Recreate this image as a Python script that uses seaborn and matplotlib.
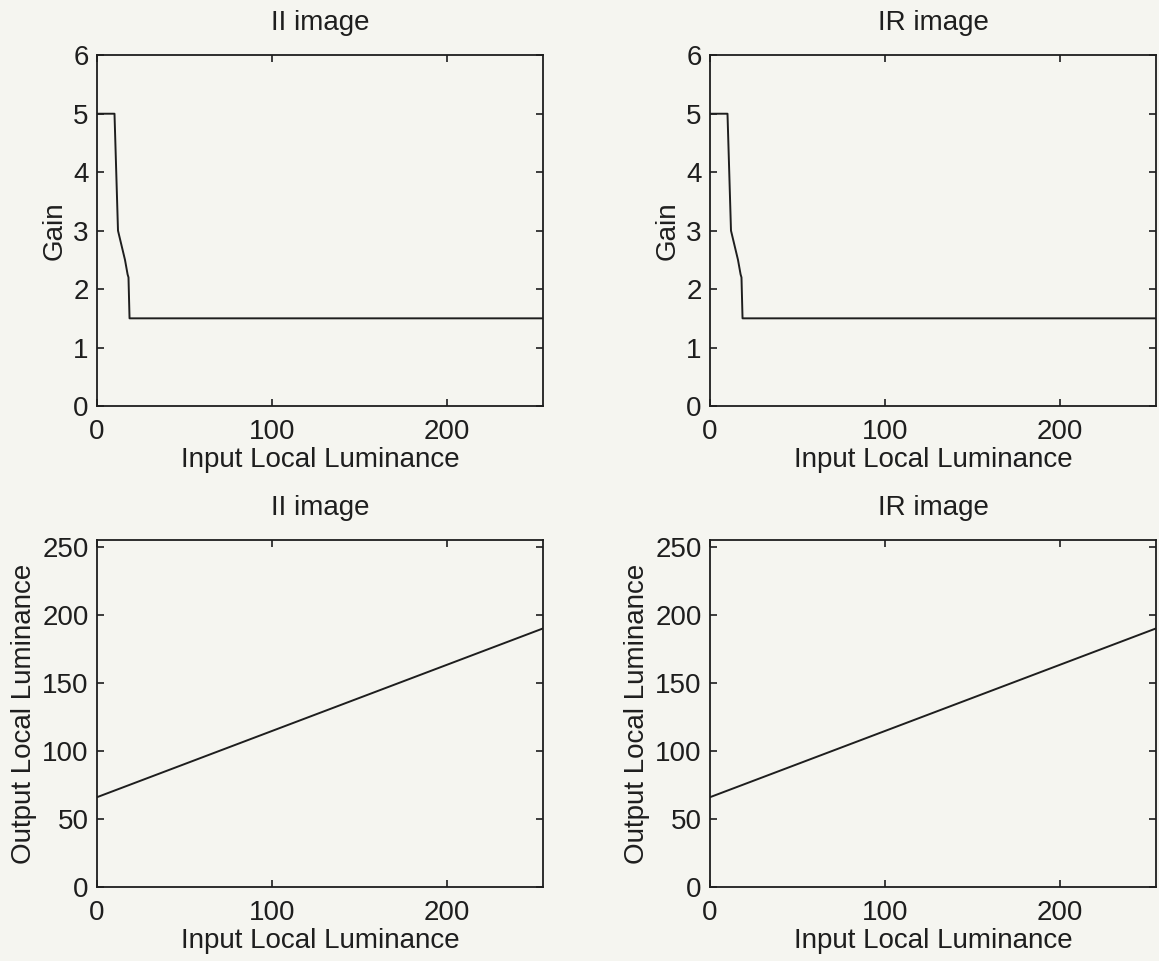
import matplotlib
matplotlib.use("Agg")
import matplotlib.pyplot as plt
import seaborn as sns
import pandas as pd

# Gain curve: piecewise values over input local luminance
gain_x = [0, 10, 11, 12, 14, 16, 17.5, 18, 18.6, 255]
gain_y = [5.0, 5.0, 4.0, 3.0, 2.75, 2.5, 2.25, 2.2, 1.5, 1.5]

# Output mapping: straight line from input 0 to 255
out_x = [0, 255]
out_y = [66, 190]

titles = ["II image", "IR image"]
xticks = [0, 100, 200]
gain_ticks = [0, 1, 2, 3, 4, 5, 6]
out_ticks = [0, 50, 100, 150, 200, 250]

bg = "#f5f5f0"
ink = "#1e1e1e"
fs = 20

sns.set_theme(style="ticks")
plt.rcParams["font.family"] = ["Liberation Sans", "DejaVu Sans"]
plt.rcParams.update({
    "font.size": fs,
    "axes.edgecolor": ink,
    "axes.linewidth": 1.3,
    "xtick.color": ink,
    "ytick.color": ink,
    "text.color": ink,
    "axes.labelcolor": ink,
})

fig = plt.figure(figsize=(11.59, 9.61), dpi=100, facecolor=bg)

lefts = [0.0837, 0.6126]
width = 0.3848
top_row = (0.5775, 0.365)
bot_row = (0.077, 0.3611)

gain_df = pd.DataFrame({"x": gain_x, "y": gain_y})
out_df = pd.DataFrame({"x": out_x, "y": out_y})

def style(ax, yticks, ylim, ylabel, title):
    ax.set_facecolor(bg)
    ax.set_xlim(0, 255)
    ax.set_ylim(*ylim)
    ax.set_xticks(xticks)
    ax.set_yticks(yticks)
    ax.tick_params(direction="in", length=5, width=1.2, top=True, right=True,
                   labelsize=fs)
    ax.tick_params(axis="x", pad=9)
    ax.tick_params(axis="y", pad=6)
    for s in ax.spines.values():
        s.set_visible(True)
        s.set_color(ink)
    ax.set_xlabel("Input Local Luminance", fontsize=fs, labelpad=2)
    ax.set_ylabel(ylabel, fontsize=fs, labelpad=4)
    ax.set_title(title, fontsize=fs, pad=18)

for i, left in enumerate(lefts):
    ax = fig.add_axes([left, top_row[0], width, top_row[1]])
    sns.lineplot(data=gain_df, x="x", y="y", ax=ax, color=ink, linewidth=1.4,
                 sort=False, estimator=None)
    style(ax, gain_ticks, (0, 6), "Gain", titles[i])

    ax2 = fig.add_axes([left, bot_row[0], width, bot_row[1]])
    sns.lineplot(data=out_df, x="x", y="y", ax=ax2, color=ink, linewidth=1.4,
                 sort=False, estimator=None)
    style(ax2, out_ticks, (0, 255), "Output Local Luminance", titles[i])

fig.savefig("out.png", dpi=100, facecolor=bg)
